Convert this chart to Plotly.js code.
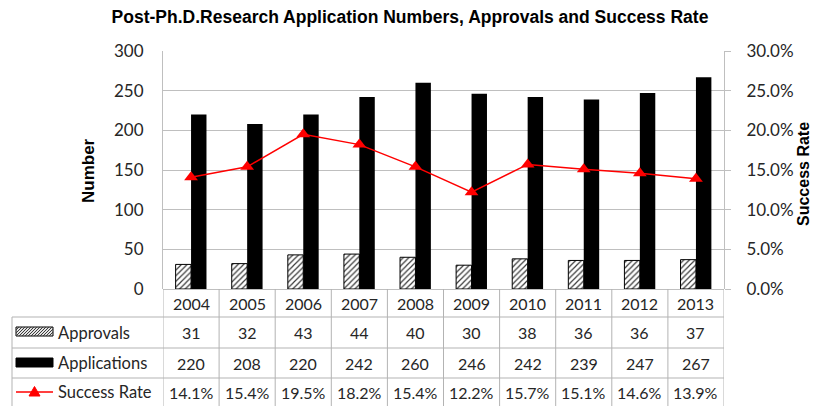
<!DOCTYPE html>
<html>
<head>
<meta charset="utf-8">
<script src="https://cdn.plot.ly/plotly-3.0.1.min.js"></script>
<style>html,body{margin:0;padding:0;background:#fff;}#chart{width:814px;height:406px;}</style>
</head>
<body>
<div id="chart"></div>
<script>
// ---- data ----
var years = ['2004','2005','2006','2007','2008','2009','2010','2011','2012','2013'];
var approvals = [31, 32, 43, 44, 40, 30, 38, 36, 36, 37];
var applications = [220, 208, 220, 242, 260, 246, 242, 239, 247, 267];
var successRate = [14.1, 15.4, 19.5, 18.2, 15.4, 12.2, 15.7, 15.1, 14.6, 13.9];
var rowLabels = ['Approvals', 'Applications', 'Success Rate'];

// ---- layout geometry (pixels) ----
var W = 814, H = 406;
var L = 163, R = 724, T = 51, B = 289;
function px(X) { return (X - L) / (R - L); }
function py(Y) { return (B - Y) / (B - T); }

var gridCol = '#bfbfbf';
var tableCol = '#b3b3b3';
var txtCol = '#262626';
var fontFam = 'Lato, "Open Sans", sans-serif';
var boldFam = '"Liberation Sans", Arial, sans-serif';

var traces = [
  {
    type: 'bar', name: 'Approvals', x: years, y: approvals,
    marker: {color: '#e3e3e3', line: {color: '#000', width: 1},
             pattern: {shape: '/', fgcolor: '#3a3a3a', size: 4, solidity: 0.3}},
    hoverinfo: 'x+y'
  },
  {
    type: 'bar', name: 'Applications', x: years, y: applications,
    marker: {color: '#000', line: {color: '#000', width: 0}},
    hoverinfo: 'x+y'
  },
  {
    type: 'scatter', mode: 'lines+markers', name: 'Success Rate', x: years, y: successRate,
    yaxis: 'y2',
    line: {color: '#ff0000', width: 1.5},
    marker: {symbol: 'triangle-up', size: 12, color: '#ff0000'},
    hoverinfo: 'x+y'
  }
];

var shapes = [];
var annotations = [];

// table row boundaries (pixels)
var rowTops = [B, 317, 348, 378, H];
// horizontal lines
[317, 348, 378].forEach(function (Y) {
  shapes.push({type: 'line', xref: 'paper', yref: 'paper', x0: px(12), x1: px(R), y0: py(Y), y1: py(Y),
               line: {color: tableCol, width: 1}});
});
// left edge of label column
shapes.push({type: 'line', xref: 'paper', yref: 'paper', x0: px(12), x1: px(12), y0: py(317), y1: py(H + 2),
             line: {color: tableCol, width: 1}});
// column boundaries at category edges
for (var i = 0; i <= years.length; i++) {
  shapes.push({type: 'line', xref: 'x', yref: 'paper', x0: i - 0.5, x1: i - 0.5, y0: 0, y1: py(H + 2),
               line: {color: tableCol, width: 1}});
}

// year row and value rows
var rows = [
  years,
  approvals.map(String),
  applications.map(String),
  successRate.map(function (v) { return v.toFixed(1) + '%'; })
];
rows.forEach(function (vals, r) {
  var yc = (rowTops[r] + rowTops[r + 1]) / 2;
  vals.forEach(function (v, j) {
    annotations.push({xref: 'x', yref: 'paper', x: j, y: py(yc), text: v, showarrow: false,
                      xanchor: 'center', yanchor: 'middle',
                      font: {family: fontFam, size: 16, color: txtCol}});
  });
});

// row labels
rowLabels.forEach(function (lab, r) {
  var yc = (rowTops[r + 1] + rowTops[r + 2]) / 2;
  annotations.push({xref: 'paper', yref: 'paper', x: px(56), y: py(yc), text: lab, showarrow: false,
                    xanchor: 'left', yanchor: 'middle',
                    font: {family: fontFam, size: 16.5, color: txtCol}});
});

// legend keys in the table
var kx0 = 16, kx1 = 53;
// approvals: hatched rectangle
(function () {
  var y0 = 327, y1 = 336;
  shapes.push({type: 'rect', xref: 'paper', yref: 'paper', x0: px(kx0), x1: px(kx1), y0: py(y1), y1: py(y0),
               fillcolor: '#e3e3e3', line: {color: '#000', width: 1}});
  var h = y1 - y0, d = '';
  for (var t = -h; t < (kx1 - kx0); t += 3) {
    var xa = kx0 + t, ya = y1, xb = kx0 + t + h, yb = y0;
    if (xa < kx0) { ya = y1 - (kx0 - xa); xa = kx0; }
    if (xb > kx1) { yb = y0 + (xb - kx1); xb = kx1; }
    d += 'M' + px(xa) + ',' + py(ya) + 'L' + px(xb) + ',' + py(yb);
  }
  shapes.push({type: 'path', xref: 'paper', yref: 'paper', path: d, line: {color: '#3a3a3a', width: 1}});
})();
// applications: black rectangle
shapes.push({type: 'rect', xref: 'paper', yref: 'paper', x0: px(kx0), x1: px(kx1), y0: py(367), y1: py(358),
             fillcolor: '#000', line: {color: '#000', width: 1}});
// success rate: red line with triangle
shapes.push({type: 'line', xref: 'paper', yref: 'paper', x0: px(kx0), x1: px(kx1), y0: py(392), y1: py(392),
             line: {color: '#ff0000', width: 1.5}});
shapes.push({type: 'path', xref: 'paper', yref: 'paper',
             path: 'M' + px(34.5) + ',' + py(386.5) + 'L' + px(40) + ',' + py(396) + 'L' + px(29) + ',' + py(396) + 'Z',
             fillcolor: '#ff0000', line: {color: '#ff0000', width: 1}});

// axis titles
annotations.push({xref: 'paper', yref: 'paper', x: px(88), y: py(171), text: '<b>Number</b>', showarrow: false,
                  textangle: -90, xanchor: 'center', yanchor: 'middle',
                  font: {family: boldFam, size: 17, color: '#000'}});
annotations.push({xref: 'paper', yref: 'paper', x: px(803), y: py(174), text: '<b>Success Rate</b>', showarrow: false,
                  textangle: -90, xanchor: 'center', yanchor: 'middle',
                  font: {family: boldFam, size: 16, color: '#000'}});

var layout = {
  width: W, height: H,
  margin: {l: L, r: W - R, t: T, b: H - B, pad: 0},
  paper_bgcolor: '#fff', plot_bgcolor: '#fff',
  showlegend: false,
  barmode: 'group', bargap: 0.45, bargroupgap: 0,
  title: {text: '<b>Post-Ph.D.Research Application Numbers, Approvals and Success Rate</b>',
          x: 410 / W, xref: 'container', xanchor: 'center',
          y: 1 - 17 / H, yref: 'container', yanchor: 'middle',
          font: {family: boldFam, size: 17.5, color: '#000'}},
  xaxis: {type: 'category', range: [-0.5, years.length - 0.5], showticklabels: false, ticks: '',
          showgrid: false, showline: false, zeroline: false, fixedrange: true},
  yaxis: {range: [0, 300], dtick: 50, tick0: 0, showgrid: true, gridcolor: gridCol, gridwidth: 1,
          zeroline: true, zerolinecolor: gridCol, zerolinewidth: 1,
          showline: true, linecolor: gridCol, linewidth: 1, ticks: '', ticklabelstandoff: 15,
          tickfont: {family: fontFam, size: 17, color: txtCol}, fixedrange: true},
  yaxis2: {overlaying: 'y', side: 'right', range: [0, 30], dtick: 5, tick0: 0, tickformat: '.1f', ticksuffix: '%',
           showgrid: false, zeroline: false, showline: true, linecolor: gridCol, linewidth: 1,
           ticks: 'outside', ticklen: 6, tickcolor: gridCol, ticklabelstandoff: 12,
           tickfont: {family: fontFam, size: 17, color: txtCol}, fixedrange: true},
  shapes: shapes,
  annotations: annotations
};

Plotly.newPlot('chart', traces, layout, {displayModeBar: false, staticPlot: true});
</script>
</body>
</html>
